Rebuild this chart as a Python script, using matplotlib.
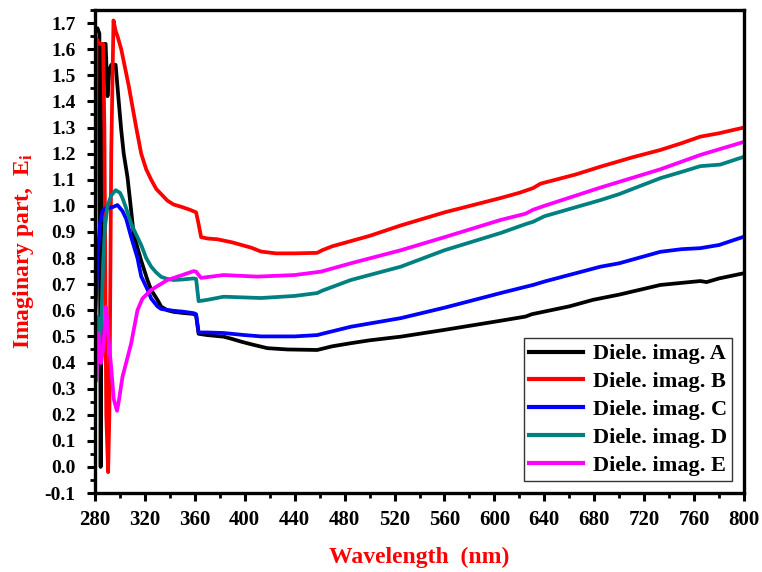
import matplotlib
matplotlib.use("Agg")
import matplotlib.pyplot as plt
from matplotlib.ticker import MultipleLocator

plt.rcParams['font.family'] = ['Liberation Serif', 'DejaVu Serif']
plt.rcParams['font.weight'] = 'bold'
plt.rcParams['mathtext.fontset'] = 'custom'
plt.rcParams['mathtext.rm'] = 'Liberation Serif:bold'
plt.rcParams['mathtext.bf'] = 'Liberation Serif:bold'
plt.rcParams['mathtext.it'] = 'Liberation Serif:bold'

# ---- data ----
wl_a = [280, 282, 283.5, 284.5, 285.5, 286.5, 288.5, 290, 291.5, 293, 296.5, 299, 301, 303, 306, 309,
        311, 314, 317, 322, 325, 330, 333, 338, 343, 350, 359, 361, 363, 370, 383, 390, 397, 405,
        418, 434, 458, 470, 485, 500, 525, 560, 605, 625, 630, 640, 660, 679, 700, 733, 750, 765,
        770, 780, 800]
val_a = [1.68, 1.68, 1.66, 0.0, 1.0, 1.62, 1.62, 1.42, 1.52, 1.54, 1.54, 1.40, 1.29, 1.20, 1.11, 0.98,
         0.89, 0.84, 0.79, 0.716, 0.678, 0.64, 0.614, 0.60, 0.594, 0.59, 0.586, 0.58, 0.51, 0.505,
         0.499, 0.49, 0.48, 0.47, 0.455, 0.45, 0.448, 0.462, 0.474, 0.485, 0.499, 0.525, 0.560, 0.576,
         0.585, 0.595, 0.615, 0.640, 0.66, 0.697, 0.705, 0.712, 0.708, 0.722, 0.742]

wl_b = [280, 281.2, 282, 284, 286.5, 287.5, 289, 290.5, 291.5, 293, 294.8, 296.5, 298, 301, 304, 307,
        310, 313, 317, 321, 325, 329, 333, 338, 343, 350, 356, 361, 363, 365, 370, 378, 390, 405,
        413, 425, 440, 458, 462, 470, 485, 500, 525, 560, 605, 620, 631, 637, 645, 665, 685, 710,
        733, 750, 765, 780, 800]
val_b = [0.45, 1.64, 1.63, 1.62, 1.62, 1.3, 0.2, -0.02, 0.2, 1.2, 1.71, 1.67, 1.65, 1.60, 1.53, 1.46,
         1.38, 1.30, 1.20, 1.14, 1.10, 1.065, 1.045, 1.02, 1.005, 0.995, 0.985, 0.975, 0.93, 0.88,
         0.875, 0.872, 0.86, 0.84, 0.825, 0.818, 0.818, 0.82, 0.83, 0.845, 0.865, 0.885, 0.925, 0.975,
         1.03, 1.05, 1.068, 1.085, 1.095, 1.12, 1.15, 1.185, 1.214, 1.24, 1.265, 1.278, 1.30]

wl_c = [280, 282, 284, 286, 288, 290, 294, 298, 302, 305, 309, 314, 317, 322, 325, 330, 333, 343, 350,
        359, 361, 363, 370, 383, 400, 413, 440, 458, 462, 485, 525, 560, 605, 625, 631, 640, 685,
        700, 733, 750, 765, 780, 800]
val_c = [0.55, 0.80, 0.93, 0.98, 0.99, 0.99, 0.995, 1.003, 0.98, 0.95, 0.88, 0.80, 0.73, 0.68, 0.645,
         0.615, 0.605, 0.598, 0.595, 0.589, 0.585, 0.515, 0.515, 0.513, 0.505, 0.50, 0.50, 0.505,
         0.51, 0.537, 0.57, 0.61, 0.666, 0.69, 0.697, 0.71, 0.767, 0.78, 0.824, 0.834, 0.838, 0.85,
         0.882]

wl_d = [280, 282, 283.5, 285, 286.5, 288, 290, 293, 296.5, 300, 302, 305, 309, 313, 317, 321, 325, 329,
        333, 338, 343, 350, 359, 361, 363, 370, 383, 413, 440, 458, 462, 485, 525, 560, 605, 625,
        631, 640, 685, 700, 733, 750, 765, 781, 800]
val_d = [0.50, 0.575, 0.45, 0.55, 0.78, 0.92, 1.0, 1.04, 1.06, 1.05, 1.03, 0.99, 0.93, 0.89, 0.85,
         0.80, 0.767, 0.745, 0.728, 0.72, 0.716, 0.718, 0.722, 0.72, 0.635, 0.64, 0.652, 0.647,
         0.655, 0.666, 0.675, 0.716, 0.767, 0.83, 0.896, 0.93, 0.939, 0.96, 1.022, 1.045, 1.106,
         1.13, 1.152, 1.158, 1.188]

wl_e = [280, 281, 282.6, 284.8, 286.5, 288.8, 291, 293, 295, 297.6, 299, 302, 305, 309, 314, 318, 325,
        338, 350, 359, 361, 363, 365, 383, 410, 440, 461, 470, 485, 525, 560, 605, 625, 631, 640,
        685, 733, 765, 800]
val_e = [0.36, 0.33, 0.513, 0.398, 0.45, 0.614, 0.48, 0.38, 0.26, 0.215, 0.25, 0.345, 0.40, 0.474,
         0.60, 0.645, 0.678, 0.716, 0.735, 0.75, 0.748, 0.735, 0.724, 0.735, 0.729, 0.735, 0.748,
         0.76, 0.78, 0.83, 0.88, 0.946, 0.97, 0.985, 1.0, 1.07, 1.14, 1.195, 1.245]

labels = ['Diele. imag. A', 'Diele. imag. B', 'Diele. imag. C', 'Diele. imag. D', 'Diele. imag. E']
colors = ['#000000', '#FF0000', '#0000FF', '#008080', '#FF00FF']
x_ticks = list(range(280, 801, 40))

fig = plt.figure(figsize=(7.62, 5.72), dpi=100)
ax = fig.add_axes([0.1247, 0.138, 0.8517, 0.8445])

series = [(wl_a, val_a), (wl_b, val_b), (wl_c, val_c), (wl_d, val_d), (wl_e, val_e)]
for (x, y), lab, c in zip(series, labels, colors):
    ax.plot(x, y, color=c, lw=2.7, label=lab, solid_joinstyle='round')

ax.set_xlim(280, 800)
ax.set_ylim(-0.1, 1.75)
ax.set_xticks(x_ticks)
ax.xaxis.set_minor_locator(MultipleLocator(20))
ax.set_yticks([round(-0.1 + 0.1 * i, 1) for i in range(19)])
ax.yaxis.set_minor_locator(MultipleLocator(0.05))
ax.set_yticklabels([f"{-0.1 + 0.1 * i:.1f}" for i in range(19)])

ax.tick_params(which='major', direction='out', length=6, width=2.2, labelsize=14, pad=8)
ax.tick_params(which='minor', direction='out', length=3.5, width=2.0)
ax.tick_params(axis='x', which='major', labelsize=15, pad=6)
for s in ax.spines.values():
    s.set_linewidth(2.4)
for lab in ax.get_xticklabels() + ax.get_yticklabels():
    lab.set_fontweight('bold')

ax.set_xlabel('Wavelength  (nm)', color='#FF0000', fontsize=17, fontweight='bold', labelpad=12)
ax.set_ylabel(r'Imaginary part,  E$_{\mathrm{i}}$', color='#FF0000', fontsize=17,
              fontweight='bold', labelpad=6)

leg = ax.legend(loc='lower right', bbox_to_anchor=(0.982, 0.024), fontsize=16,
                frameon=True, fancybox=False, handlelength=2.4, handletextpad=0.45,
                borderpad=0.25, labelspacing=0.33, borderaxespad=0.0)
leg.get_frame().set_edgecolor('black')
leg.get_frame().set_linewidth(1.0)
for t in leg.get_texts():
    t.set_fontweight('bold')
for h in leg.get_lines():
    h.set_linewidth(3)

fig.savefig('out.png', dpi=100)
